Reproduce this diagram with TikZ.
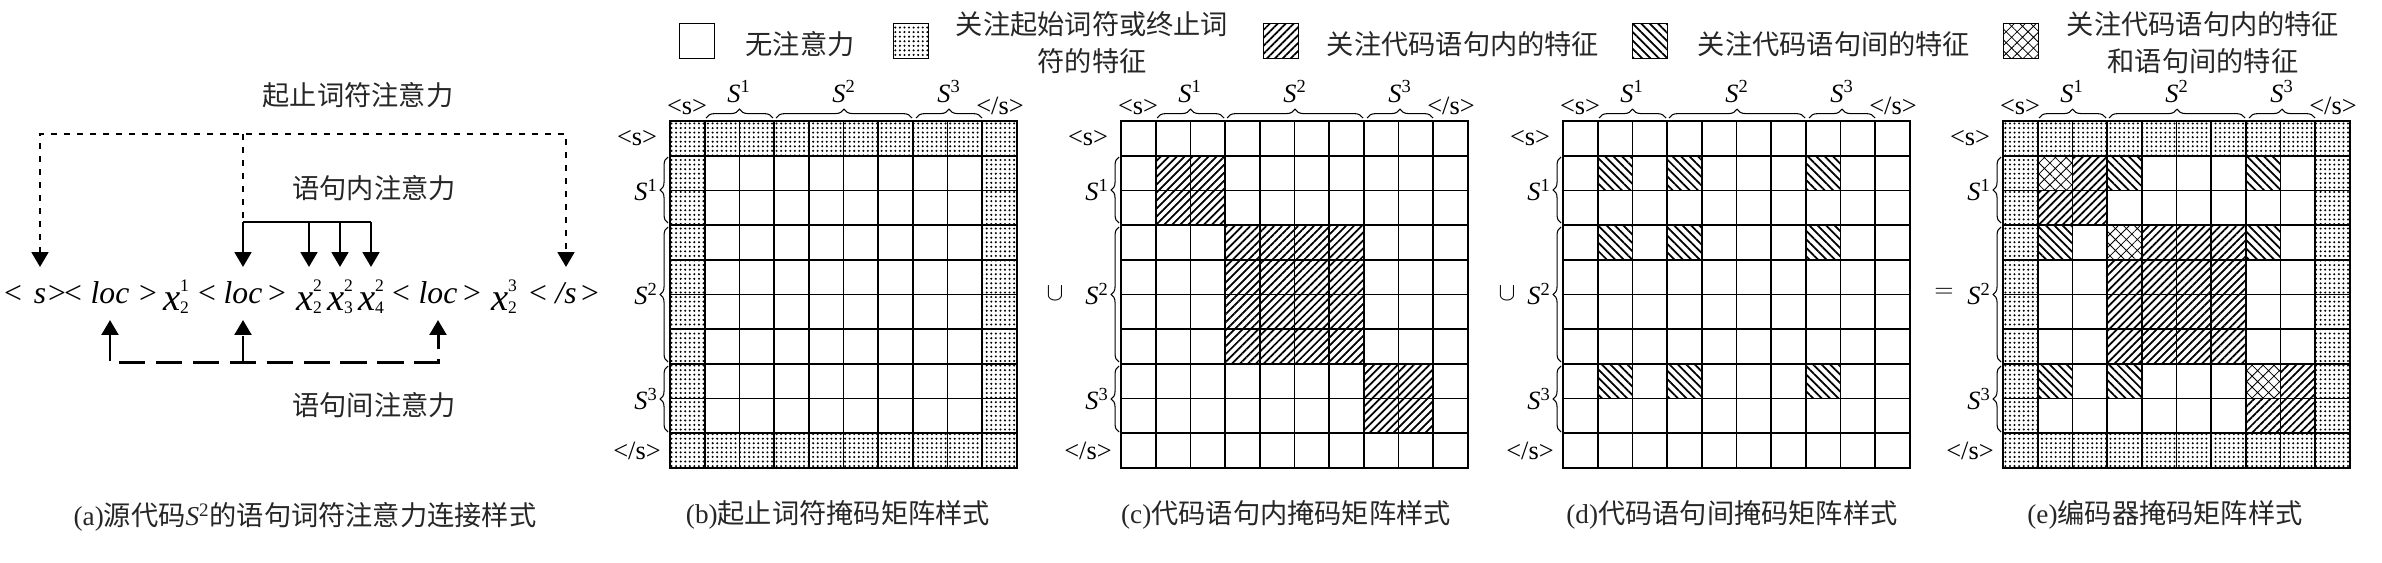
\documentclass[tikz,border=0pt]{standalone}
\usepackage{fontspec}
\setmainfont{Liberation Serif}
\newfontfamily\cjk{Noto Sans CJK SC}
\usetikzlibrary{arrows.meta,positioning,patterns.meta,decorations.pathreplacing}

% x with sub- and superscript, as in the token sequence
\newcommand\xtok[2]{{\fontsize{22pt}{22pt}\selectfont\itshape x}\rlap{\fontsize{10pt}{10pt}\selectfont\raisebox{10.5pt}{#2}}{\fontsize{10pt}{10pt}\selectfont\raisebox{-1.8pt}{#1}}}

\tikzset{
  cntext/.style={font=\cjk\fontsize{15.5pt}{21pt}\selectfont, text=black!85, inner sep=0pt, align=center},
  captext/.style={font=\fontsize{15.5pt}{21pt}\selectfont, text=black!85, inner sep=0pt},
  axislbl/.style={font=\fontsize{15pt}{15pt}\selectfont, inner sep=0pt},
  seqtok/.style={font=\fontsize{18pt}{18pt}\selectfont, inner sep=0pt, anchor=base},
  seqword/.style={seqtok, font=\fontsize{18pt}{18pt}\selectfont\itshape},
  gridline/.style={line width=1pt, line cap=rect},
  dotcell/.style={pattern={Dots[distance=2.6pt,radius=0.65pt]}},
  intracell/.style={pattern={Lines[angle=45,distance=3.2pt,line width=1pt]}},
  intercell/.style={pattern={Lines[angle=-45,distance=3.4pt,line width=1pt]}},
  bothcell/.style={pattern={Hatch[angle=45,distance=4.4pt,line width=0.45pt]}},
  legbox/.style={draw, line width=0.9pt, minimum size=0.7cm, inner sep=0pt},
  sbrace/.style={decorate, decoration={brace, amplitude=5pt}, line width=0.6pt},
  tipl/.style={-{Triangle[width=9.5pt,length=8.5pt]}},
  tipboth/.style={{Triangle[width=9.5pt,length=8.5pt]}-{Triangle[width=9.5pt,length=8.5pt]}},
  bosline/.style={line width=1.6pt, dash pattern=on 3.4pt off 4pt},
  intraline/.style={line width=1.6pt},
  interline/.style={line width=1.7pt, dash pattern=on 15pt off 6pt},
}

\begin{document}
\begin{tikzpicture}[x=0.02cm, y=-0.02cm]
  \useasboundingbox (0,0) rectangle (2382,562);

  % Legend
  \node[legbox] (leg1) at (697,41) {};
  \node[cntext] (leg1t) at (800,44) {无注意力};
  \node[legbox, dotcell] (leg2) at (911,41) {};
  \node[cntext] (leg2t) at (1092,43) {关注起始词符或终止词\\符的特征};
  \node[legbox, intracell] (leg3) at (1281,41) {};
  \node[cntext] (leg3t) at (1463,44) {关注代码语句内的特征};
  \node[legbox, intercell] (leg4) at (1650,41) {};
  \node[cntext] (leg4t) at (1834,44) {关注代码语句间的特征};
  \node[legbox, bothcell] (leg5) at (2021,41) {};
  \node[cntext] (leg5t) at (2203,43) {关注代码语句内的特征\\和语句间的特征};

  % (a) token sequence
  \foreach \nm/\px/\tk in {lt1/13/<, gt1/57/>, lt2/73/<, gt2/148/>, lt3/207/<, gt3/277/>, lt4/401/<, gt4/472/>, lt5/538/<, gt5/590/>}
    \node[seqtok] (\nm) at (\px,303) {\tk};
  \foreach \nm/\px/\tk in {s1/40/s, loc1/110/loc, loc2/243/loc, loc3/438/loc}
    \node[seqword] (\nm) at (\px,303) {\tk};
  \node[seqword] (s2) at (566,303) {/s};
  \node[seqtok] (x21) at (176,310) {\xtok{2}{1}};
  \node[seqtok] (x22) at (309,310) {\xtok{2}{2}};
  \node[seqtok] (x32) at (340,310) {\xtok{3}{2}};
  \node[seqtok] (x42) at (371,310) {\xtok{4}{2}};
  \node[seqtok] (x23) at (504,310) {\xtok{2}{3}};

  \coordinate (dotY) at (0,134);
  \coordinate (solY) at (0,222);
  \coordinate (tipY) at (0,267);
  \coordinate (upY) at (0,320);
  \coordinate (dashY) at (0,362);

  % start/end token attention
  \node[cntext] (bosatt) at (358,95) {起止词符注意力};
  \draw[bosline, tipboth] (s1 |- tipY) |- (s2 |- dotY) -- (s2 |- tipY);
  \draw[bosline] (loc2 |- dotY) -- (loc2 |- solY);

  % intra-statement attention
  \node[cntext] (intraatt) at (374,188) {语句内注意力};
  \draw[intraline] (loc2 |- solY) -- (x42 |- solY);
  \foreach \t in {loc2,x22,x32,x42}
    \draw[intraline, tipl] (\t |- solY) -- (\t |- tipY);

  % inter-statement attention
  \node[cntext] (interatt) at (374,405) {语句间注意力};
  \draw[interline, tipboth] (loc1 |- upY) |- (loc3 |- dashY) -- (loc3 |- upY);
  \draw[interline, tipl] (loc2 |- dashY) -- (loc2 |- upY);

  \node[captext] (capa) at (305,517) {(a){\cjk 源代码}\textit{S}\textsuperscript{2}{\cjk 的语句词符注意力连接样式}};

  % (b) start/end token mask
  \begin{scope}[shift={(670,121)}, x=0.694cm, y=-0.694cm]
    \fill[dotcell] (0,0) rectangle (10,1) (0,9) rectangle (10,10) (0,1) rectangle (1,9) (9,1) rectangle (10,9);
  \end{scope}

  % (c) intra-statement mask
  \begin{scope}[shift={(1121,121)}, x=0.694cm, y=-0.694cm]
    \fill[intracell] (1,1) rectangle (3,3) (3,3) rectangle (7,7) (7,7) rectangle (9,9);
  \end{scope}

  % (d) inter-statement mask
  \begin{scope}[shift={(1563,121)}, x=0.694cm, y=-0.694cm]
    \foreach \r in {1,3,7}
      \foreach \c in {1,3,7}
        \fill[intercell] (\c,\r) rectangle ++(1,1);
  \end{scope}

  % (e) encoder mask
  \begin{scope}[shift={(2003,121)}, x=0.694cm, y=-0.694cm]
    \fill[dotcell] (0,0) rectangle (10,1) (0,9) rectangle (10,10) (0,1) rectangle (1,9) (9,1) rectangle (10,9);
    \fill[intracell] (1,1) rectangle (3,3) (3,3) rectangle (7,7) (7,7) rectangle (9,9);
    \foreach \r in {1,3,7}
      \foreach \c in {1,3,7} {
        \fill[white] (\c,\r) rectangle ++(1,1);
        \fill[intercell] (\c,\r) rectangle ++(1,1);
      }
    \foreach \k in {1,3,7} {
      \fill[white] (\k,\k) rectangle ++(1,1);
      \fill[bothcell] (\k,\k) rectangle ++(1,1);
    }
  \end{scope}

  % grids and axis labels
  \foreach \L/\nm in {670/b,1121/c,1563/d,2003/e} {
    \begin{scope}[shift={(\L,121)}, x=0.694cm, y=-0.694cm]
      \foreach \k in {0,...,10} {
        \draw[gridline] (\k,0) -- (\k,10);
        \draw[gridline] (0,\k) -- (10,\k);
      }
    \end{scope}
    \node[axislbl] (\nm-tbos) at (\L+17,107) {<s>};
    \node[axislbl] (\nm-teos) at (\L+330,106) {</s>};
    \node[axislbl, anchor=base] (\nm-ts1) at (\L+69,102) {\textit{S}\textsuperscript{1}};
    \node[axislbl, anchor=base] (\nm-ts2) at (\L+174,102) {\textit{S}\textsuperscript{2}};
    \node[axislbl, anchor=base] (\nm-ts3) at (\L+279,102) {\textit{S}\textsuperscript{3}};
    \draw[sbrace] (\L+36,118) -- (\L+103,118);
    \draw[sbrace] (\L+106,118) -- (\L+242,118);
    \draw[sbrace] (\L+246,118) -- (\L+312,118);
    \node[axislbl] (\nm-lbos) at (\L-33,138) {<s>};
    \node[axislbl] (\nm-leos) at (\L-33,451) {</s>};
    \node[axislbl, anchor=east] (\nm-ls1) at (\L-12,190) {\textit{S}\textsuperscript{1}};
    \node[axislbl, anchor=east] (\nm-ls2) at (\L-12,294) {\textit{S}\textsuperscript{2}};
    \node[axislbl, anchor=east] (\nm-ls3) at (\L-12,399) {\textit{S}\textsuperscript{3}};
    \draw[sbrace, decoration={amplitude=4.5pt}] (\L-2,223) -- (\L-2,157);
    \draw[sbrace, decoration={amplitude=4.5pt}] (\L-2,362) -- (\L-2,227);
    \draw[sbrace, decoration={amplitude=4.5pt}] (\L-2,432) -- (\L-2,366);
  }

  % set operators
  \node[axislbl] (cupc) at (1055,293) {$\cup$};
  \node[axislbl] (cupd) at (1507,293) {$\cup$};
  \node[axislbl] (eqe) at (1944,293) {$=$};

  % captions
  \node[captext] (capb) at (838,515) {(b){\cjk 起止词符掩码矩阵样式}};
  \node[captext] (capc) at (1286,515) {(c){\cjk 代码语句内掩码矩阵样式}};
  \node[captext] (capd) at (1732,515) {(d){\cjk 代码语句间掩码矩阵样式}};
  \node[captext] (cape) at (2165,515) {(e){\cjk 编码器掩码矩阵样式}};
\end{tikzpicture}
\end{document}
